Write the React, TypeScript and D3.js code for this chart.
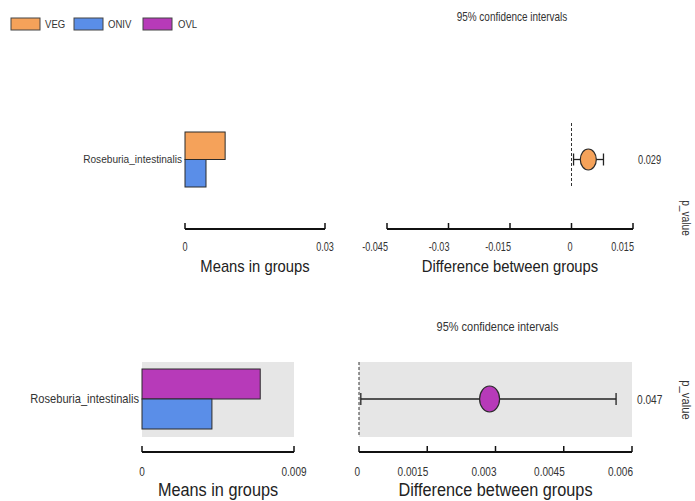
import React from "react";
import * as d3 from "d3";

const groups = ["VEG", "ONIV", "OVL"];
const groupColors = ["#f5a25a", "#5a8ee8", "#b73ab9"];
const feature = "Roseburia_intestinalis";

// panel 1: VEG vs ONIV
const p1Means = [0.0086, 0.0045];
const p1Groups = ["VEG", "ONIV"];
const p1MeanTicks = [0, 0.03];
const p1Diff = 0.0041;
const p1CI = [0.0005, 0.0078];
const p1DiffTicks = [-0.045, -0.03, -0.015, 0, 0.015];
const p1P = "0.029";

// panel 2: OVL vs ONIV
const p2Means = [0.007, 0.00414];
const p2Groups = ["OVL", "ONIV"];
const p2MeanTicks = [0, 0.009];
const p2Diff = 0.00287;
const p2CI = [0.00004, 0.00565];
const p2DiffTicks = [0, 0.0015, 0.003, 0.0045, 0.006];
const p2P = "0.047";

const FONT = "'Liberation Sans', Arial, sans-serif";
const colorOf = (g: string) => groupColors[groups.indexOf(g)];

function T(props: any) {
  const { x, y, sx = 0.8, size = 12, anchor = "start", rotate = 0, fill = "#333", dy = "0", children } = props;
  return (
    <text transform={`translate(${x},${y}) rotate(${rotate}) scale(${sx},1)`} textAnchor={anchor}
      fontSize={size} fill={fill} fontFamily={FONT} dy={dy}>{children}</text>
  );
}

function Panel(props: any) {
  const { means, gnames, meanTicks, diff, ci, diffTicks, p, top, bg, diffGroup, lx, rx, rxy, fs } = props;
  const xm = d3.scaleLinear().domain([meanTicks[0], meanTicks[meanTicks.length - 1]]).range(lx);
  const xd = d3.scaleLinear().domain([diffTicks[0], diffTicks[diffTicks.length - 1]]).range(rx);
  const y = d3.scaleBand().domain(gnames).range([top.bar0, top.bar1]);
  const axisY = top.axis;
  const cy = (top.bar0 + top.bar1) / 2;
  const fmt = (v: number) => (v === 0 ? "0" : String(v));
  return (
    <g>
      {bg && <rect x={lx[0]} y={top.bg0} width={lx[1] - lx[0]} height={top.bg1 - top.bg0} fill="#e6e6e6" />}
      {bg && <rect x={rx[0]} y={top.bg0} width={rx[1] - rx[0]} height={top.bg1 - top.bg0} fill="#e6e6e6" />}
      {gnames.map((g: string, i: number) => (
        <rect key={g} x={xm(0)} y={y(g)} width={xm(means[i]) - xm(0)} height={y.bandwidth()}
          fill={colorOf(g)} stroke="#2b2b2b" strokeWidth={1} />
      ))}
      <T x={lx[0] - 3} y={cy} dy="0.35em" anchor="end" size={11 * fs} sx={0.92}>{feature}</T>
      <line x1={lx[0]} x2={lx[1]} y1={axisY} y2={axisY} stroke="#111" strokeWidth={2} />
      {meanTicks.map((t: number) => (
        <g key={t}>
          <line x1={xm(t)} x2={xm(t)} y1={axisY} y2={axisY - 6} stroke="#111" strokeWidth={1.5} />
          <T x={xm(t)} y={axisY + top.tl} anchor="middle" size={12 * fs} sx={0.76}>{fmt(t)}</T>
        </g>
      ))}
      <T x={(lx[0] + lx[1]) / 2} y={axisY + top.tt} anchor="middle" size={17 * fs} sx={0.87} fill="#222">Means in groups</T>

      <T x={(rx[0] + rx[1]) / 2 + 2} y={top.title} anchor="middle" size={12 * fs} sx={0.83}>95% confidence intervals</T>
      <line x1={xd(0)} x2={xd(0)} y1={top.bg0} y2={top.bg1} stroke="#333" strokeWidth={1} strokeDasharray="3,2" />
      <line x1={xd(ci[0])} x2={xd(ci[1])} y1={cy} y2={cy} stroke="#222" strokeWidth={1.3} />
      {ci.map((c: number, i: number) => (
        <line key={i} x1={xd(c)} x2={xd(c)} y1={cy - 6} y2={cy + 6} stroke="#222" strokeWidth={1.3} />
      ))}
      <ellipse cx={xd(diff)} cy={cy} rx={rxy[0]} ry={rxy[1]} fill={colorOf(diffGroup)} stroke="#2b2b2b" strokeWidth={1.2} />
      <T x={rx[1] + 5} y={cy} dy="0.35em" size={12 * fs} sx={0.77}>{p}</T>
      <line x1={rx[0]} x2={rx[1]} y1={axisY} y2={axisY} stroke="#111" strokeWidth={2} />
      {diffTicks.map((t: number) => (
        <g key={t}>
          <line x1={xd(t)} x2={xd(t)} y1={axisY} y2={axisY - 6} stroke="#111" strokeWidth={1.5} />
          <T x={xd(t) + 1} y={axisY + top.tl} anchor="end" size={12 * fs} sx={0.76}>{fmt(t)}</T>
        </g>
      ))}
      <T x={(rx[0] + rx[1]) / 2} y={axisY + top.tt} anchor="middle" size={17 * fs} sx={0.87} fill="#222">Difference between groups</T>
      <T x={682} y={top.pv} anchor="middle" size={12 * fs} sx={0.85} rotate={90}>p_value</T>
    </g>
  );
}

export default function App() {
  return (
    <svg width={695} height={501} style={{ position: "absolute", left: 0, top: 0, background: "#fff" }}>
      {groups.map((g, i) => {
        const xs = [11, 74, 143][i];
        const tx = [45, 108, 178][i];
        return (
          <g key={g}>
            <rect x={xs} y={18} width={29} height={12} fill={groupColors[i]} stroke="#444" strokeWidth={1} />
            <T x={tx} y={24} dy="0.35em" size={11} sx={0.87}>{g}</T>
          </g>
        );
      })}
      <Panel means={p1Means} gnames={p1Groups} meanTicks={p1MeanTicks} diff={p1Diff} ci={p1CI}
        diffTicks={p1DiffTicks} p={p1P} diffGroup="VEG" lx={[185, 325]} rx={[387, 633]} rxy={[8, 10.5]} fs={1}
        top={{ bar0: 132, bar1: 187, axis: 229, bg0: 123, bg1: 188, title: 21, pv: 218, tl: 22, tt: 43 }}
        bg={false} />
      <Panel means={p2Means} gnames={p2Groups} meanTicks={p2MeanTicks} diff={p2Diff} ci={p2CI}
        diffTicks={p2DiffTicks} p={p2P} diffGroup="OVL" lx={[142, 294]} rx={[359, 632]} rxy={[10, 13]} fs={1.1}
        top={{ bar0: 369, bar1: 429, axis: 452, bg0: 362, bg1: 437, title: 331, pv: 400, tl: 24, tt: 44 }}
        bg={true} />
    </svg>
  );
}
